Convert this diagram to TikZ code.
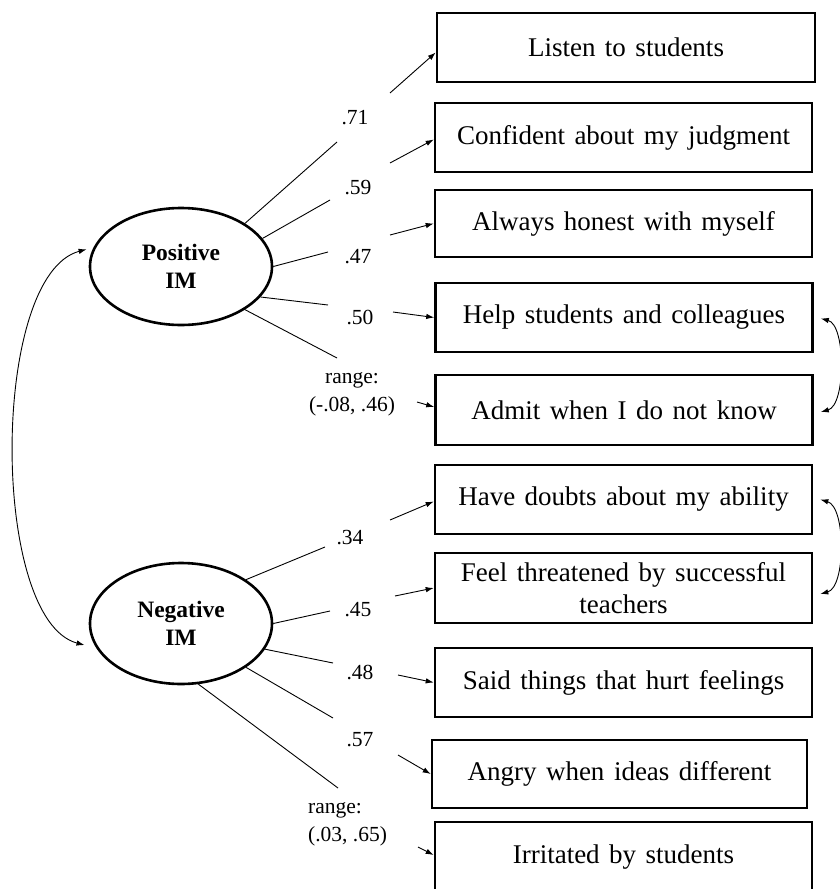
\documentclass[tikz,border=0pt]{standalone}
\usepackage{fontspec}
\setmainfont{Liberation Serif}
\usetikzlibrary{arrows.meta,shapes.geometric}
\begin{document}
\begin{tikzpicture}[x=1pt,y=-1pt,
  item/.style={draw, line width=2.6pt, rectangle, inner sep=0pt, align=center, font=\fontsize{27}{32}\selectfont,
    execute at begin node={\setlength{\spaceskip}{9.5pt plus 2pt minus 1pt}}},
  latent/.style={draw, ellipse, line width=2.6pt, inner sep=0pt, minimum width=182pt, minimum height=117pt, align=center, font=\bfseries\fontsize{23.5}{28}\selectfont},
  load/.style={line width=0.9pt},
  arr/.style={line width=0.9pt, -{Latex[length=8pt,width=5.5pt]}},
  biarr/.style={line width=0.9pt, {Latex[length=8pt,width=5.5pt]}-{Latex[length=8pt,width=5.5pt]}},
  lab/.style={inner sep=0pt, font=\fontsize{21.5}{28}\selectfont}]
\useasboundingbox (0,0) rectangle (840,889);

% latent variables
\node[latent] (P) at (181,266.5) {Positive\\IM};
\node[latent, minimum height=121pt] (N) at (181,623.5) {Negative\\IM};

% indicator boxes
\node[item, minimum width=378pt, minimum height=69pt] (L1) at (626,47.5) {Listen to students};
\node[item, minimum width=377pt, minimum height=69pt] (L2) at (623.5,137.5) {Confident about my judgment};
\node[item, minimum width=377pt, minimum height=67pt] (L3) at (623.5,223.5) {Always honest with myself};
\node[item, minimum width=377pt, minimum height=69pt] (L4) at (624,317.5) {Help students and colleagues};
\node[item, minimum width=377pt, minimum height=70pt] (L5) at (624,410) {Admit when I do not know};
\node[item, minimum width=377pt, minimum height=69pt] (M1) at (623.5,499.5) {Have doubts about my ability};
\node[item, minimum width=377pt, minimum height=70pt] (M2) at (623.5,588) {Feel threatened by successful\\teachers};
\node[item, minimum width=377pt, minimum height=69pt] (M3) at (623.5,682.5) {Said things that hurt feelings};
\node[item, minimum width=375pt, minimum height=68pt] (M4) at (619.5,774) {Angry when ideas different};
\node[item, minimum width=377pt, minimum height=70pt] (M5) at (623.5,857) {Irritated by students};

% loading labels
\node[lab] (lp1) at (355,118) {.71};
\node[lab] (lp2) at (358,188) {.59};
\node[lab] (lp3) at (358,257) {.47};
\node[lab] (lp4) at (360,317) {.50};
\node[lab, align=center] (lp5) at (352,394) {range:\\(-.08, .46)};
\node[lab] (ln1) at (350,538) {.34};
\node[lab] (ln2) at (358,610) {.45};
\node[lab] (ln3) at (360,672) {.48};
\node[lab] (ln4) at (360,740) {.57};
\node[lab, align=left, anchor=west] (ln5) at (308,824) {range:\\(.03, .65)};

% break points of the loading paths
\coordinate (pa1) at (337,142); \coordinate (pb1) at (390,93);
\coordinate (pa2) at (330,200); \coordinate (pb2) at (390,163);
\coordinate (pa3) at (328,252); \coordinate (pb3) at (390,235);
\coordinate (pa4) at (328,305); \coordinate (pb4) at (393,312);
\coordinate (pa5) at (337,358); \coordinate (pb5) at (417,402);
\coordinate (na1) at (325,547); \coordinate (nb1) at (390,520);
\coordinate (na2) at (330,611); \coordinate (nb2) at (395,596);
\coordinate (na3) at (333,663); \coordinate (nb3) at (398,675);
\coordinate (na4) at (333,718); \coordinate (nb4) at (398,755);
\coordinate (na5) at (338,788); \coordinate (nb5) at (418,847);

% positive loadings
\draw[load] (P.34) -- (pa1);  \draw[arr] (pb1) -- ([yshift=-5pt]L1.west);
\draw[load] (P.19) -- (pa2);  \draw[arr] (pb2) -- ([yshift=-2pt]L2.west);
\draw[load] (P.0) -- (pa3);   \draw[arr] (pb3) -- (L3.west);
\draw[load] (P.-21) -- (pa4); \draw[arr] (pb4) -- (L4.west);
\draw[load] (P.-34) -- (pa5); \draw[arr] (pb5) -- ([yshift=3pt]L5.west);

% negative loadings
\draw[load] (N.34) -- (na1);  \draw[arr] (nb1) -- ([yshift=-2pt]M1.west);
\draw[load] (N.0) -- (na2);   \draw[arr] (nb2) -- (M2.west);
\draw[load] (N.-17.5) -- (na3); \draw[arr] (nb3) -- (M3.west);
\draw[load] (N.-34) -- (na4); \draw[arr] (nb4) -- (M4.west);
\draw[load] (N.-74.5) -- (na5); \draw[arr] (nb5) -- ([yshift=2pt]M5.west);

% covariances
\draw[biarr] ([xshift=-6pt]P.169) .. controls (-10,275) and (-10,620) .. ([xshift=-10pt]N.194);
\draw[biarr] ([xshift=7pt,yshift=-1pt]L4.east) .. controls (846,325) and (846,405) .. ([xshift=7pt,yshift=-2pt]L5.east);
\draw[biarr] ([xshift=7pt]M1.east) .. controls (846,507) and (846,587) .. ([xshift=7pt,yshift=-6pt]M2.east);
\end{tikzpicture}
\end{document}
